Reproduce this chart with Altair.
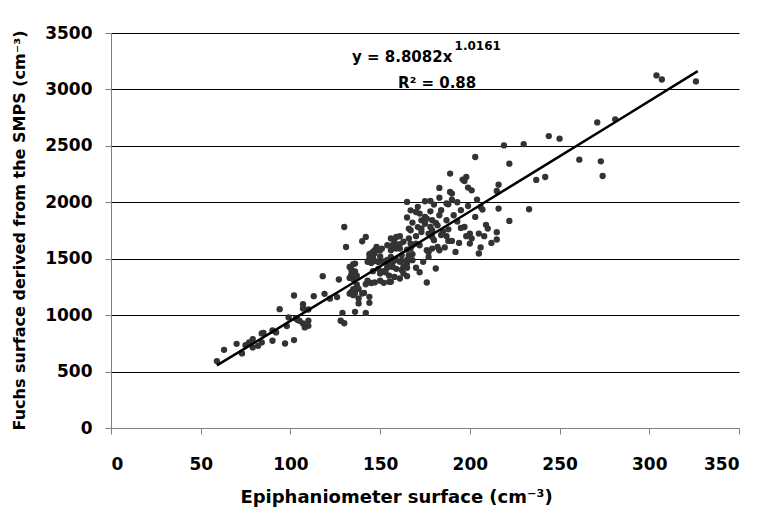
import altair as alt
import pandas as pd

# ---- data ----
x_vals = [59, 63, 70, 73, 75, 77, 79, 79, 82, 84, 85, 84, 90, 90, 92, 94, 97, 98, 99, 102,
          102, 103, 104, 105, 107, 107, 107, 108, 110, 110, 110, 113, 118, 119, 122, 126, 127, 128, 130, 129,
          130, 131, 135, 136, 142, 133, 136, 140, 142, 134, 136, 134, 136, 133, 135, 137, 137, 138, 135, 134,
          136, 133, 135, 140, 141, 138, 138, 144, 144, 142, 143, 145, 147, 150, 144, 146, 147, 149, 151, 150,
          147, 149, 152, 154, 148, 147, 145, 146, 144, 150, 146, 149, 152, 150, 153, 155, 154, 152, 155, 156,
          158, 161, 159, 162, 157, 159, 162, 165, 163, 165, 163, 165, 158, 161, 163, 165, 167, 168, 162, 166,
          156, 159, 161, 158, 157, 154, 156, 159, 161, 143, 145, 156, 157, 155, 161, 164, 154, 157,
          165, 175, 178, 187, 190, 188, 204, 206, 165, 167, 170, 172, 166, 167, 173, 175, 176, 175, 173, 178,
          179, 181, 183, 187, 191, 178, 179, 182, 187, 188, 190, 195, 197, 200, 201, 200, 205, 205, 166, 167,
          170, 172, 177, 179, 180, 176, 177, 177, 179, 182, 183, 168, 168, 165, 181, 174, 176, 203, 189, 196,
          198, 197, 183, 189, 190, 199, 201, 216, 215, 199, 207, 216, 210, 222, 233, 237, 219, 230, 222, 242,
          244, 250, 261, 273, 274, 271, 281, 304, 307, 326,
          208, 212, 215, 206, 195, 170, 172, 185, 184, 170, 173, 194, 186, 192, 198, 171, 180, 183, 193, 171,
          168, 188, 184, 193, 209, 203, 215]
y_vals = [593, 693, 746, 661, 734, 758, 788, 714, 728, 838, 843, 758, 773, 864, 847, 1053, 749, 903, 980, 779,
          1174, 971, 958, 950, 1097, 1059, 926, 891, 950, 905, 1050, 1168, 1345, 1189, 1146, 1160, 1316, 950, 928, 1020,
          1781, 1604, 1451, 1029, 1020, 1427, 1457, 1655, 1693, 1400, 1388, 1362, 1345, 1330, 1318, 1350, 1270, 1232, 1230, 1205,
          1195, 1190, 1177, 1192, 1197, 1148, 1104, 1162, 1109, 1274, 1305, 1285, 1290, 1305, 1540, 1560, 1550, 1580, 1590, 1520,
          1480, 1470, 1476, 1490, 1604, 1575, 1546, 1516, 1502, 1575, 1390, 1410, 1390, 1370, 1380, 1350, 1420, 1286, 1295, 1295,
          1339, 1325, 1410, 1400, 1470, 1490, 1480, 1490, 1430, 1420, 1370, 1345, 1620, 1630, 1650, 1580, 1590, 1620, 1530, 1530,
          1679, 1693, 1699, 1649, 1619, 1619, 1575, 1590, 1590, 1472, 1463, 1516, 1472, 1457, 1472, 1427, 1427, 1427,
          2003, 2009, 2012, 1989, 2024, 1982, 2024, 1958, 1865, 1929, 1914, 1900, 1767, 1752, 1840, 1870, 1855, 1810, 1767, 1920,
          1841, 1817, 1885, 1841, 1885, 1781, 1752, 1796, 1699, 1658, 1658, 1773, 1781, 1723, 1679, 1634, 1723, 1546, 1679, 1634,
          1634, 1619, 1723, 1693, 1664, 1575, 1560, 1516, 1590, 1604, 1575, 1540, 1487, 1463, 1413, 1472, 1289, 2401, 2254, 2201,
          2224, 2188, 2127, 2091, 2077, 2130, 2106, 2156, 2100, 1967, 1935, 1944, 1767, 1835, 1938, 2198, 2504, 2516, 2342, 2224,
          2587, 2564, 2378, 2363, 2233, 2708, 2735, 3124, 3088, 3071,
          1700, 1640, 1670, 1600, 1930, 1420, 1380, 1740, 1710, 1700, 1737, 1640, 1600, 1560, 1700, 1960, 1980, 2040, 2000, 1780,
          1820, 1760, 1930, 1830, 1800, 1870, 1735]

fit_a = 8.8082
fit_b = 1.0161
fit_x = [59, 80, 100, 130, 160, 200, 240, 280, 327]

x_ticks = [0, 50, 100, 150, 200, 250, 300, 350]
y_ticks = [0, 500, 1000, 1500, 2000, 2500, 3000, 3500]

eq_text = ["y = 8.8082x"]
eq_x = [134.3]
eq_y = [3240]
sup_text = ["1.0161"]
sup_x = [191.5]
sup_y = [3350]
r2_text = ["R² = 0.88"]
r2_x = [160]
r2_y = [3009]

FONT = "DejaVu Sans"

pts = pd.DataFrame({"x": x_vals, "y": y_vals})
fit = pd.DataFrame({"x": fit_x})

xscale = alt.Scale(domain=[0, 350], nice=False, zero=False)
yscale = alt.Scale(domain=[0, 3500], nice=False)

xaxis = alt.Axis(values=x_ticks, format="d", title="Epiphaniometer surface (cm⁻³)", grid=False,
                 tickSize=6, labelPadding=22, titleX=285, titleY=74,
                 titleBaseline="alphabetic", titleFontSize=18)
yaxis = alt.Axis(values=y_ticks, format="d", title="Fuchs surface derived from the SMPS (cm⁻³)", grid=True,
                 gridColor="#000000", gridWidth=1, tickSize=6, labelPadding=13,
                 titleX=-87, titleY=197, titleBaseline="alphabetic", titleAlign="center",
                 titleAngle=270, titleFontSize=16)

points = alt.Chart(pts).mark_circle(size=40, color="#333333", opacity=1).encode(
    x=alt.X("x:Q", scale=xscale, axis=xaxis),
    y=alt.Y("y:Q", scale=yscale, axis=yaxis),
)

line = alt.Chart(fit).transform_calculate(
    y=f"{fit_a}*pow(datum.x,{fit_b})"
).mark_line(color="black", strokeWidth=2.5).encode(
    x=alt.X("x:Q", scale=xscale),
    y=alt.Y("y:Q", scale=yscale),
)

def label(txt, xs, ys, size):
    df = pd.DataFrame({"x": xs, "y": ys, "t": txt})
    return alt.Chart(df).mark_text(align="left", baseline="alphabetic", font=FONT,
                                   fontWeight="bold", fontSize=size, color="black").encode(
        x=alt.X("x:Q", scale=xscale), y=alt.Y("y:Q", scale=yscale), text="t:N")

chart = alt.layer(
    points, line,
    label(eq_text, eq_x, eq_y, 15),
    label(sup_text, sup_x, sup_y, 12),
    label(r2_text, r2_x, r2_y, 15),
).properties(
    width=628, height=395,
    autosize=alt.AutoSizeParams(type="none"),
    padding={"left": 111, "top": 33, "right": 18, "bottom": 90},
    background="white",
).configure_axis(
    labelFont=FONT, labelFontWeight="bold", labelFontSize=17, labelColor="black",
    titleFont=FONT, titleFontWeight="bold", titleColor="black",
    domainColor="#808080", tickColor="#808080",
).configure_view(stroke=None)

chart.save("out.html", embed_options={"renderer": "svg", "actions": False})
